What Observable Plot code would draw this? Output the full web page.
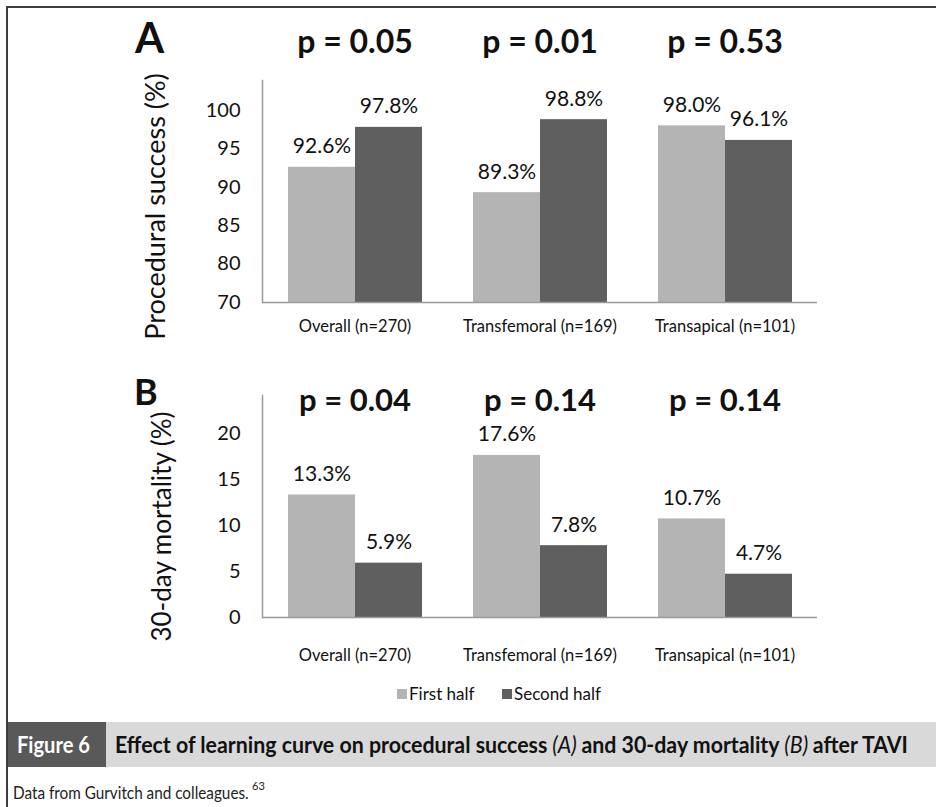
<!DOCTYPE html>
<html><head><meta charset="utf-8">
<script src="https://cdn.jsdelivr.net/npm/d3@7"></script>
<script src="https://cdn.jsdelivr.net/npm/@observablehq/plot@0.6"></script>
<style>
body{margin:0;background:#fff;}
#root{position:relative;width:936px;height:807px;overflow:hidden;font-family:Lato,sans-serif;}
#root > * {position:absolute;left:0;}
</style></head><body><div id="root"></div>
<script>
// ---- data ----
const categories = ["Overall (n=270)", "Transfemoral (n=169)", "Transapical (n=101)"];
const series = ["First half", "Second half"];
const seriesColors = ["#b4b4b4", "#5f5f5f"];
const successFirst = [92.6, 89.3, 98.0];
const successSecond = [97.8, 98.8, 96.1];
const mortalityFirst = [13.3, 17.6, 10.7];
const mortalitySecond = [5.9, 7.8, 4.7];
const pValuesA = ["p = 0.05", "p = 0.01", "p = 0.53"];
const pValuesB = ["p = 0.04", "p = 0.14", "p = 0.14"];
const yTicksA = [75, 80, 85, 90, 95, 100];
const yTickLabelsA = ["70", "80", "85", "90", "95", "100"];
const yTicksB = [0, 5, 10, 15, 20];
const yTickLabelsB = ["0", "5", "10", "15", "20"];
const yLabelA = "Procedural success (%)";
const yLabelB = "30-day mortality (%)";
const panelLetters = ["A", "B"];
const figureTag = "Figure 6";
const captionParts = [
  ["Effect of learning curve on procedural success", false],
  ["(A)", true],
  ["and 30-day mortality", false],
  ["(B)", true],
  ["after TAVI", false]
];
const sourceNote = "Data from Gurvitch and colleagues.";
const sourceRef = "63";

const root = document.getElementById("root");

function panel(o) {
  const rows = categories.flatMap((c, i) => [
    {cat: c, s: series[0], v: o.first[i]},
    {cat: c, s: series[1], v: o.second[i]}
  ]);
  const pRows = categories.map((c, i) => ({cat: c, p: o.pvals[i]}));
  const y0 = o.yDomain[0];
  return Plot.plot({
    width: 936, height: o.height,
    marginLeft: 261, marginRight: 119, marginTop: o.marginTop, marginBottom: o.marginBottom,
    style: {fontFamily: "Lato, sans-serif", background: "transparent", color: "#111", overflow: "visible"},
    fx: {domain: categories, padding: 0, label: null},
    x: {domain: series, paddingInner: 0, paddingOuter: 0.3625, axis: null},
    y: {domain: o.yDomain, label: null},
    color: {domain: series, range: seriesColors},
    marks: [
      Plot.barY(rows, {fx: "cat", x: "s", y1: y0, y2: "v", fill: "s"}),
      Plot.ruleY([y0], {stroke: "#9a9a9a", strokeWidth: 1.5}),
      Plot.frame({anchor: "left", facet: "super", stroke: "#9a9a9a", strokeWidth: 1.5}),
      Plot.axisY({ticks: o.ticks, tickFormat: d => o.tickLabels[o.ticks.indexOf(d)], tickSize: 0, tickPadding: 22, fontSize: 20, label: null}),
      Plot.axisFx({anchor: "bottom", tickSize: 0, tickPadding: o.fxPad, fontSize: 16.5, label: null}),
      Plot.text(rows, {fx: "cat", x: "s", y: "v", text: d => d.v.toFixed(1) + "%", lineAnchor: "bottom", dy: -14, fontSize: 21, fill: "#111"}),
      Plot.text(pRows, {fx: "cat", text: "p", frameAnchor: "top", lineAnchor: "bottom", dy: o.pDy, fontSize: o.pSize, fontWeight: "bold", fill: "#111"}),
      Plot.text([o.yLabel], {fx: [categories[0]], text: d => d, frameAnchor: "left", rotate: -90, textAnchor: "middle", lineAnchor: "top", dx: o.labelDx, dy: o.labelDy, fontSize: o.labelSize, fill: "#111"})
    ]
  });
}

const svgA = panel({
  first: successFirst, second: successSecond, pvals: pValuesA,
  yDomain: [75, 103.9], ticks: yTicksA, tickLabels: yTickLabelsA, yLabel: yLabelA,
  height: 350, marginTop: 80, marginBottom: 48, fxPad: 18, pDy: -28, pSize: 32,
  labelDx: -117, labelDy: 15, labelSize: 27
});
svgA.style.top = "0px";
root.appendChild(svgA);

const svgB = panel({
  first: mortalityFirst, second: mortalitySecond, pvals: pValuesB,
  yDomain: [0, 24.1], ticks: yTicksB, tickLabels: yTickLabelsB, yLabel: yLabelB,
  height: 330, marginTop: 45, marginBottom: 63, fxPad: 32, pDy: 15, pSize: 31,
  labelDx: -110, labelDy: 20, labelSize: 26
});
svgB.style.top = "350px";
root.appendChild(svgB);

// ---- overlay: frame, panel letters, legend, caption ----
const ov = d3.create("svg").attr("width", 936).attr("height", 807)
  .style("top", "0px").style("font-family", "Lato, sans-serif");
root.appendChild(ov.node());

ov.append("line").attr("x1", 7).attr("x2", 936).attr("y1", 7).attr("y2", 7).attr("stroke", "#3c3c3c").attr("stroke-width", 2);
ov.append("line").attr("x1", 7).attr("x2", 7).attr("y1", 6).attr("y2", 807).attr("stroke", "#3c3c3c").attr("stroke-width", 2);

const letterPos = [[135, 53, 42], [134, 405, 36]];
panelLetters.forEach((L, i) => {
  ov.append("text").attr("x", letterPos[i][0]).attr("y", letterPos[i][1])
    .attr("font-size", letterPos[i][2]).attr("font-weight", "bold").attr("fill", "#111").text(L);
});

// legend
const legendX = [397, 502];
series.forEach((s, i) => {
  ov.append("rect").attr("x", legendX[i]).attr("y", 689).attr("width", 10).attr("height", 10).attr("fill", seriesColors[i]);
  ov.append("text").attr("x", legendX[i] + 12).attr("y", 700).attr("font-size", 17).attr("fill", "#111").text(s);
});

// caption band
ov.append("rect").attr("x", 106).attr("y", 722).attr("width", 830).attr("height", 45).attr("fill", "#d9d9d9");
ov.append("rect").attr("x", 8).attr("y", 722).attr("width", 98).attr("height", 45).attr("fill", "#595959");

// condensed look: shrink font so the run fits its span, then stretch vertically back to the wanted height
function condensedRun(parts, x0, y, total, size, weightFn, styleFn, fill, gap) {
  const g = ov.append("g");
  const nodes = parts.map((p, i) => g.append("text").attr("font-size", size)
    .attr("font-weight", weightFn(p, i)).attr("font-style", styleFn(p, i)).attr("fill", fill).text(p[0]));
  const widths = nodes.map(n => n.node().getComputedTextLength());
  const natural = d3.sum(widths) + size * gap * (parts.length - 1);
  const k = Math.min(1, total / natural);
  const f = size * k;
  g.attr("transform", `translate(${x0},${y}) scale(1,${1 / k})`);
  let x = 0;
  nodes.forEach((n, i) => {
    n.attr("font-size", f).attr("x", x).attr("y", 0);
    x += widths[i] * k + size * gap * k;
  });
  return x0 + x;
}
condensedRun([[figureTag, false]], 17, 753, 73, 23, () => "bold", () => "normal", "#fff", 0);
condensedRun(captionParts, 115, 753, 793, 23,
  p => p[1] ? "normal" : "bold", p => p[1] ? "italic" : "normal", "#111", 0.22);
const noteEnd = condensedRun([[sourceNote, false]], 13, 799, 236, 17, () => "normal", () => "normal", "#222", 0);
ov.append("text").attr("x", 252).attr("y", 790).attr("font-size", 11).attr("fill", "#222").text(sourceRef);
</script>
</body></html>
